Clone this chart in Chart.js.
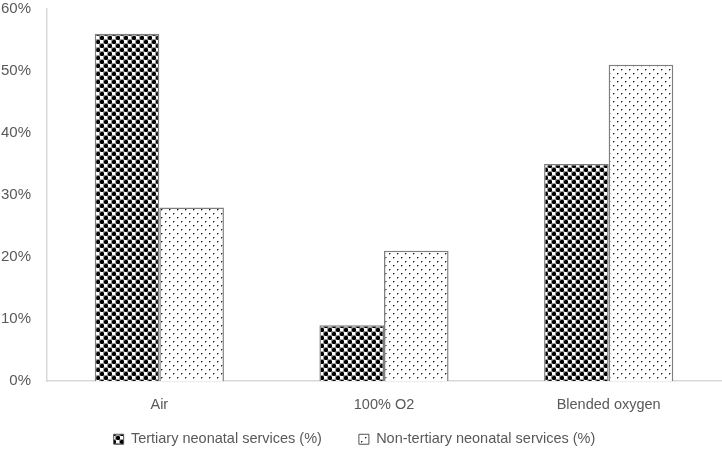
<!DOCTYPE html>
<html><head><meta charset="utf-8">
<script src="https://cdn.jsdelivr.net/npm/chart.js@4"></script>
<style>html,body{margin:0;padding:0;background:#fff}#wrap{width:722px;height:451px}</style>
</head><body><div id="wrap"><canvas id="c" width="722" height="451"></canvas></div>
<script>
const categories = ["Air", "100% O2", "Blended oxygen"];
const tertiary = [56, 9, 35];
const nonTertiary = [28, 21, 51];
const seriesNames = ["Tertiary neonatal services (%)", "Non-tertiary neonatal services (%)"];

function crossPattern(){
  const c=document.createElement('canvas');c.width=8;c.height=8;const g=c.getContext('2d');
  g.fillStyle='#9a9a9a';g.fillRect(0,0,8,8);
  g.fillStyle='#ffffff';
  g.fillRect(4,0,3,3);g.fillRect(0,4,3,3);
  g.fillStyle='#000000';
  g.fillRect(1,0,2,4);g.fillRect(0,1,4,2);
  g.fillRect(5,4,2,4);g.fillRect(4,5,4,2);
  g.fillStyle='#555555';
  g.fillRect(0,0,1,1);g.fillRect(3,3,1,1);g.fillRect(3,0,1,1);g.fillRect(0,3,1,1);
  g.fillRect(4,4,1,1);g.fillRect(7,7,1,1);g.fillRect(7,4,1,1);g.fillRect(4,7,1,1);
  return g.createPattern(c,'repeat');
}
function dotPattern(){
  const c=document.createElement('canvas');c.width=8;c.height=8;const g=c.getContext('2d');
  g.fillStyle='#ffffff';g.fillRect(0,0,8,8);
  g.fillStyle='#222222';g.fillRect(1,1,1,1);g.fillRect(5,5,1,1);
  g.fillStyle='#999999';g.fillRect(2,1,1,1);g.fillRect(6,5,1,1);g.fillRect(1,2,1,1);g.fillRect(5,6,1,1);
  return g.createPattern(c,'repeat');
}
const p1=crossPattern(), p2=dotPattern();
const font="'Liberation Sans', 'Open Sans', sans-serif";
const legendShift={
  id:'legendShift',
  afterLayout(chart){
    const l=chart.legend; if(!l) return;
    l.top-=30; l.height+=30; l.left-=6; l.right-=6;
  }
};
new Chart(document.getElementById('c'),{
  type:'bar',
  data:{labels:categories,datasets:[
    {label:seriesNames[0],data:tertiary,backgroundColor:p1,borderColor:'#7f7f7f',borderWidth:1.5},
    {label:seriesNames[1],data:nonTertiary,backgroundColor:p2,borderColor:'#7f7f7f',borderWidth:1.5}
  ]},
  plugins:[legendShift],
  options:{
    responsive:false,animation:false,devicePixelRatio:1,
    layout:{padding:{left:0,right:1,top:9,bottom:0}},
    categoryPercentage:0.575,barPercentage:1,
    plugins:{
      legend:{position:'bottom',maxHeight:26,labels:{font:{family:font,size:14.5},color:'#595959',boxWidth:10,boxHeight:10,padding:37,
        generateLabels(ch){return ch.data.datasets.map((d,i)=>({text:d.label,fillStyle:d.backgroundColor,strokeStyle:'#555',lineWidth:1,datasetIndex:i,fontColor:'#595959'}));}}},
      tooltip:{enabled:false}
    },
    scales:{
      x:{grid:{display:false,drawTicks:false},border:{color:'#d9d9d9',width:1.5},
        ticks:{font:{family:font,size:14.5},color:'#595959',padding:15,autoSkip:false},
        afterFit(s){s.height=44;}},
      y:{min:0,max:60,grid:{display:false,drawOnChartArea:false,drawTicks:true,tickLength:6,color:'#d9d9d9'},
        border:{color:'#d9d9d9',width:1.5},
        ticks:{stepSize:10,font:{family:font,size:15},color:'#595959',padding:10,callback:v=>v+'%'},
        afterFit(s){s.width=47;s.paddingTop=0;s.paddingBottom=0;}}
    }
  }
});
</script></body></html>
